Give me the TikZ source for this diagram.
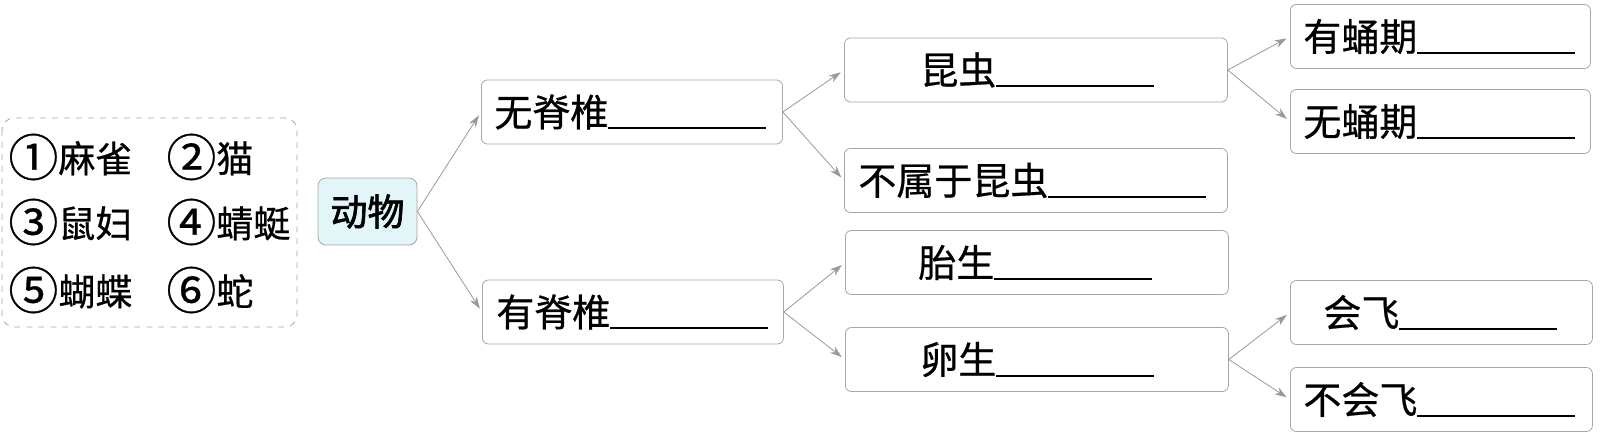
\documentclass[tikz,border=0pt]{standalone}
\usepackage{fontspec}
\newfontfamily\cjk{Noto Sans CJK SC}[FakeBold=0.6]
\newfontfamily\cjkb{Noto Sans CJK SC}[FakeBold=1.8]
\usetikzlibrary{arrows.meta}
\definecolor{dwfill}{RGB}{226,246,249}

\begin{document}
\begin{tikzpicture}[x=0.5pt, y=-0.5pt, font=\cjk,
    box/.style={draw=gray!70, line width=.4pt, rounded corners=3pt, anchor=west,
      inner xsep=0pt, inner ysep=0pt, minimum height=32pt, align=left,
      font=\cjk\fontsize{19}{19}\selectfont},
    item/.style={anchor=west, inner sep=0pt, font=\cjk\fontsize{18.5}{18.5}\selectfont},
    link/.style={draw=gray!80, line width=.4pt, shorten >=2pt,
      -{Stealth[length=6pt, width=4pt]}}]
    \def\blank{\rule[-1.5pt]{79pt}{1pt}}
    \def\num#1{\raisebox{-1.8pt}{\fontsize{25}{25}\selectfont#1}}

    \useasboundingbox (0, 0) rectangle (1603, 435);

    % animal list
    \draw[gray!70, line width=.4pt, dashed, rounded corners=6pt] (2, 118) rectangle (297, 327);
    \node[item] (a1) at (8, 157) {\num{①}麻雀};
    \node[item] (a2) at (166, 157) {\num{②}猫};
    \node[item] (a3) at (8, 222) {\num{③}鼠妇};
    \node[item] (a4) at (166, 222) {\num{④}蜻蜓};
    \node[item] (a5) at (8, 290) {\num{⑤}蝴蝶};
    \node[item] (a6) at (166, 290) {\num{⑥}蛇};

    \node[draw=gray!70, line width=.4pt, fill=dwfill, rounded corners=4pt,
      minimum width=49.5pt, minimum height=33.5pt, inner sep=0pt,
      font=\cjkb\fontsize{18.5}{18.5}\selectfont] (dw) at (367.5, 211.5) {动物};

    % first level
    \node[box, text width=150.5pt] (wj) at (481, 112) {\hspace*{6.5pt}无脊椎\blank};
    \node[box, text width=150.5pt] (yj) at (482, 312) {\hspace*{7pt}有脊椎\blank};

    % second level
    \node[box, text width=191.5pt] (kc) at (844, 70) {\hspace*{38pt}昆虫\blank};
    \node[box, text width=191.5pt] (bs) at (844, 180.5) {\hspace*{7pt}不属于昆虫\blank};
    \node[box, text width=191.5pt] (ts) at (845, 262.5) {\hspace*{36.5pt}胎生\blank};
    \node[box, text width=191.5pt] (ls) at (845, 359.5) {\hspace*{37.5pt}卵生\blank};

    % third level
    \node[box, text width=150pt] (yy) at (1290, 36.5) {\hspace*{6.5pt}有蛹期\blank};
    \node[box, text width=150pt] (wy) at (1290, 121.5) {\hspace*{6.5pt}无蛹期\blank};
    \node[box, text width=151pt] (hf) at (1290, 312.5) {\hspace*{16.5pt}会飞\blank};
    \node[box, text width=151pt] (bhf) at (1290, 399.5) {\hspace*{6.5pt}不会飞\blank};

    \foreach \from/\to in {dw/wj, dw/yj, wj/kc, wj/bs, yj/ts, yj/ls, kc/yy, kc/wy, ls/hf, ls/bhf}
        \draw[link] (\from.east) -- (\to.west);
\end{tikzpicture}
\end{document}
